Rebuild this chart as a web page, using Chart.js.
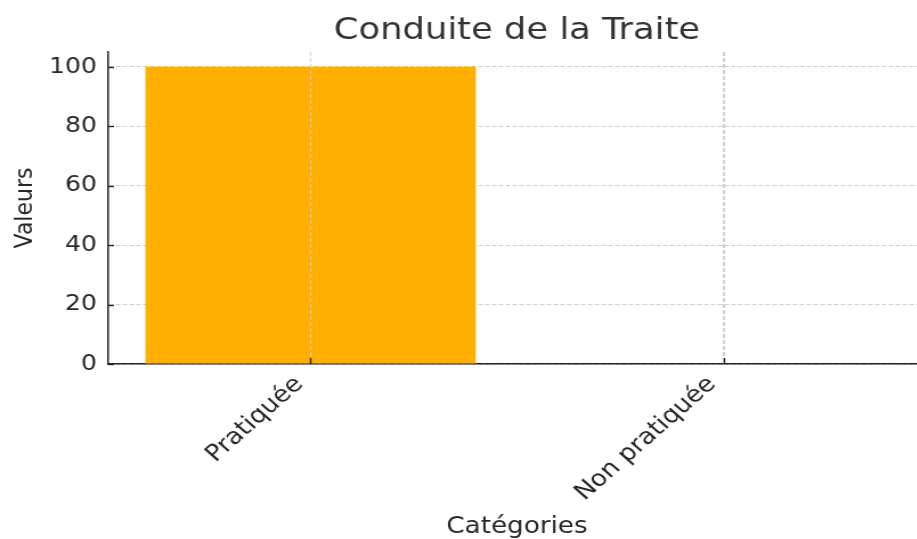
<!DOCTYPE html>
<html>
<head>
<meta charset="utf-8">
<script src="https://cdn.jsdelivr.net/npm/chart.js@4/dist/chart.umd.min.js"></script>
<style>
html,body{margin:0;padding:0;background:#fff;overflow:hidden;width:917px;height:539px;}
#wrap{width:816px;height:539px;transform:scaleX(1.14);transform-origin:0 0;}
</style>
</head>
<body>
<div id="wrap"><canvas id="c" width="816" height="539"></canvas></div>
<script>
const categories = ["Pratiquée", "Non pratiquée"];
const values = [100, 0];
const yTicks = [0, 20, 40, 60, 80, 100];
const titleText = "Conduite de la Traite";
const xTitle = "Catégories";
const yTitle = "Valeurs";

const FONT = "'DejaVu Sans', sans-serif";
const TXT = "#262626";
const GRID = "#cfcfcf";

const overlay = {
  id: 'overlay',
  afterDatasetsDraw(chart) {
    const ctx = chart.ctx, a = chart.chartArea;
    const xs = chart.scales.x, ys = chart.scales.y;
    ctx.save();
    ctx.strokeStyle = GRID; ctx.lineWidth = 1; ctx.setLineDash([4, 2]);
    xs.ticks.forEach(t => {
      const px = Math.round(xs.getPixelForValue(t.value)) + 0.5;
      ctx.beginPath(); ctx.moveTo(px, a.top); ctx.lineTo(px, a.bottom); ctx.stroke();
    });
    ctx.setLineDash([]); ctx.strokeStyle = TXT; ctx.lineWidth = 1.4;
    xs.ticks.forEach(t => {
      const px = Math.round(xs.getPixelForValue(t.value)) + 0.5;
      ctx.beginPath(); ctx.moveTo(px, a.bottom); ctx.lineTo(px, a.bottom - 6); ctx.stroke();
    });
    ys.ticks.forEach(t => {
      const py = Math.round(ys.getPixelForValue(t.value)) + 0.5;
      ctx.beginPath(); ctx.moveTo(a.left, py); ctx.lineTo(a.left + 5, py); ctx.stroke();
    });
    ctx.restore();
  }
};

new Chart(document.getElementById('c'), {
  type: 'bar',
  data: {
    datasets: [{
      xAxisID: 'x',
      yAxisID: 'y',
      data: values.map((v, i) => ({x: i, y: v})),
      backgroundColor: '#FFAF00',
      borderWidth: 0,
      barPercentage: 1,
      categoryPercentage: 0.8
    }]
  },
  options: {
    responsive: false,
    animation: false,
    devicePixelRatio: 1,
    layout: {padding: {left: 0, right: 4, top: 0, bottom: 0}},
    plugins: {
      legend: {display: false},
      tooltip: {enabled: false},
      title: {display: false}
    },
    scales: {
      x: {
        type: 'linear',
        offset: false,
        min: -0.49,
        max: 1.49,
        afterBuildTicks: (s) => { s.ticks = categories.map((c, i) => ({value: i})); },
        afterFit: (s) => { s.height = 175; },
        ticks: {
          autoSkip: false,
          minRotation: 45,
          maxRotation: 45,
          padding: 7,
          labelOffset: -10,
          color: TXT,
          font: {family: FONT, size: 23},
          callback: (v) => categories[v]
        },
        grid: {
          display: true,
          offset: false,
          drawTicks: false,
          color: GRID,
          lineWidth: 1
        },
        border: {display: true, color: TXT, width: 1.5, dash: [4, 2]},
        title: {
          display: true,
          text: xTitle,
          color: TXT,
          font: {family: FONT, size: 23, lineHeight: 1.0},
          padding: {top: 0, bottom: 0}
        }
      },
      y: {
        min: 0,
        max: 105,
        afterBuildTicks: (s) => { s.ticks = yTicks.map(v => ({value: v})); },
        afterFit: (s) => { s.width = 95; },
        ticks: {
          padding: 10,
          color: TXT,
          font: {family: FONT, size: 22}
        },
        grid: {
          display: true,
          drawTicks: false,
          color: GRID,
          lineWidth: 1
        },
        border: {display: true, color: TXT, width: 1.5, dash: [4, 2]},
        title: {
          display: true,
          text: yTitle,
          color: TXT,
          font: {family: FONT, size: 22},
          padding: {top: 9, bottom: 0}
        }
      },
      titleAxis: {
        type: 'linear',
        axis: 'x',
        position: 'top',
        min: -0.49,
        max: 1.49,
        afterFit: (s) => { s.height = 52; },
        ticks: {display: false},
        grid: {display: false, drawTicks: false},
        border: {display: false},
        title: {
          display: true,
          text: titleText,
          color: '#333',
          font: {family: FONT, size: 31, weight: 'normal'},
          padding: {top: 12, bottom: 0}
        }
      }
    }
  },
  plugins: [overlay]
});
</script>
</body>
</html>
